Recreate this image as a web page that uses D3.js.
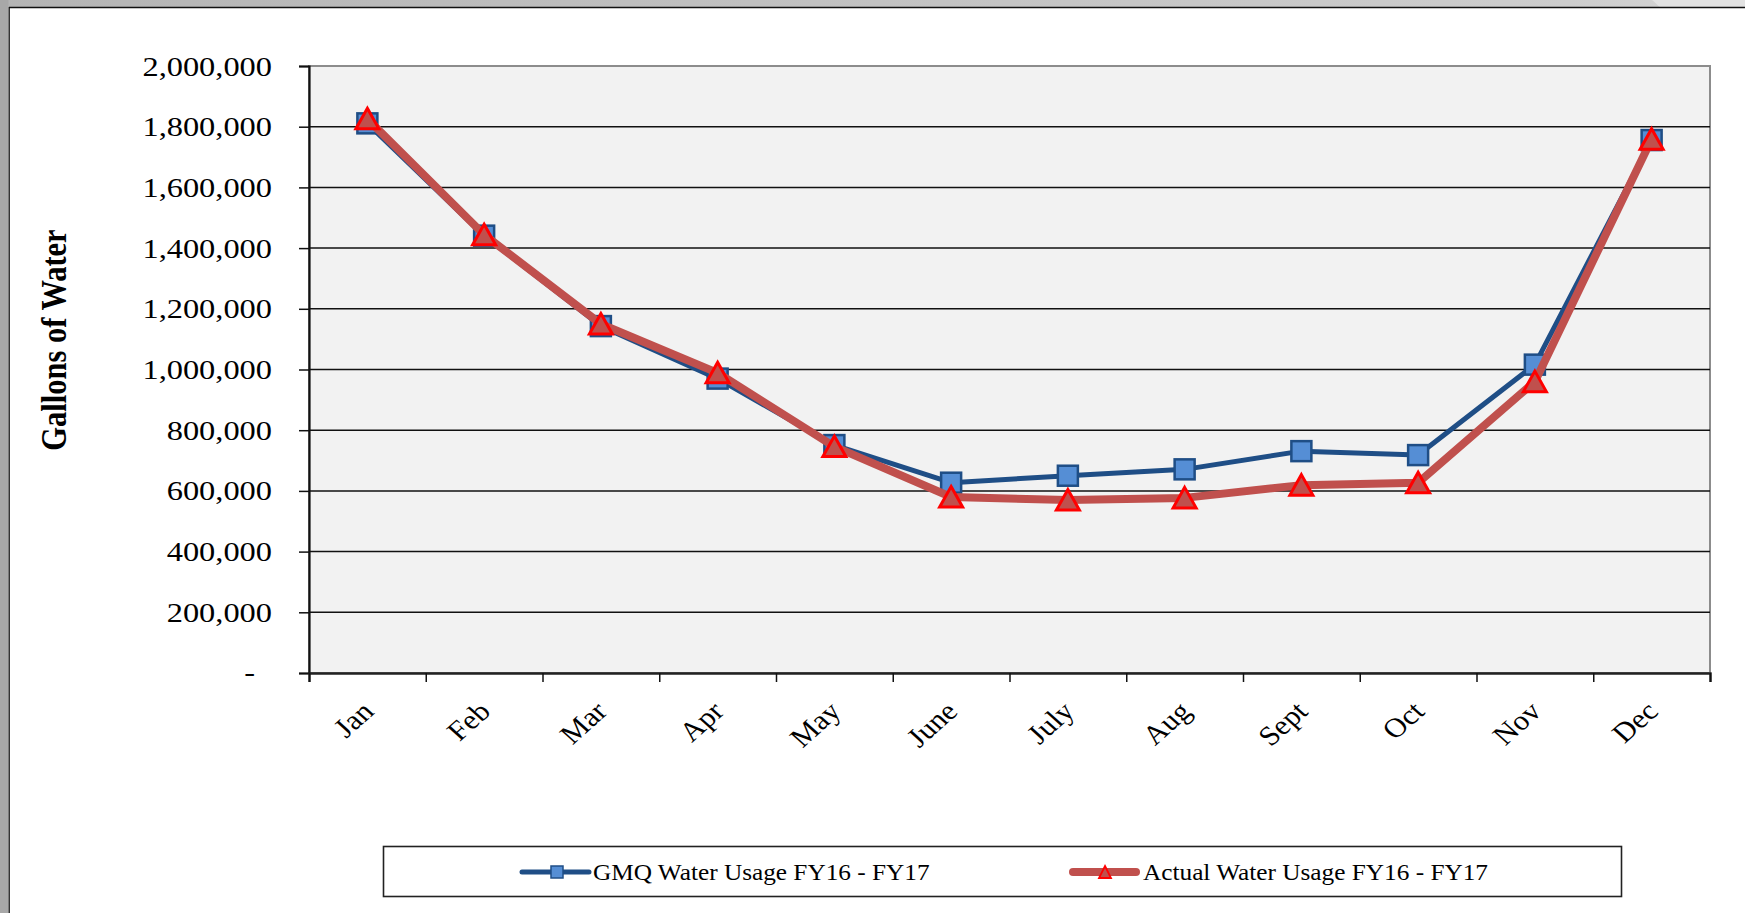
<!DOCTYPE html>
<html>
<head>
<meta charset="utf-8">
<script src="https://cdn.jsdelivr.net/npm/d3@7/dist/d3.min.js"></script>
<style>
  html, body { margin: 0; padding: 0; background: #fff; }
  svg { display: block; }
  text { font-family: "Liberation Serif", "Times New Roman", serif; fill: #000; }
</style>
</head>
<body>
<svg id="chart" width="1745" height="913"></svg>
<script>
// ---- data ----
const months = ["Jan", "Feb", "Mar", "Apr", "May", "June", "July", "Aug", "Sept", "Oct", "Nov", "Dec"];
const gmqValues = [1811000, 1441000, 1143000, 970000, 751000, 627000, 650000, 671000, 731000, 718000, 1016000, 1756000];
const actualValues = [1826000, 1444000, 1150000, 989000, 746000, 580000, 570000, 577000, 619000, 627000, 960000, 1759000];
const yTicks = [0, 200000, 400000, 600000, 800000, 1000000, 1200000, 1400000, 1600000, 1800000, 2000000];
const seriesNames = ["GMQ Water Usage FY16 - FY17", "Actual Water Usage FY16 - FY17"];
const yTitle = "Gallons of Water";

// ---- layout ----
const W = 1745, H = 913;
const plot = { left: 309, right: 1710, top: 66, bottom: 673 };
const SX = 1.2; // horizontal text stretch of the original

const svg = d3.select("#chart");

// page frame
const defs = svg.append("defs");
const g1 = defs.append("linearGradient").attr("id", "topg").attr("x1", 0).attr("x2", 1).attr("y1", 0).attr("y2", 0);
g1.append("stop").attr("offset", "0").attr("stop-color", "#b4b4b4");
g1.append("stop").attr("offset", "0.9").attr("stop-color", "#cdcdcd");
g1.append("stop").attr("offset", "1").attr("stop-color", "#d6d6d6");
svg.append("rect").attr("x", 0).attr("y", 0).attr("width", W).attr("height", H).attr("fill", "#ffffff");
svg.append("rect").attr("x", 0).attr("y", 0).attr("width", W).attr("height", 7).attr("fill", "url(#topg)");
svg.append("path").attr("d", "M1652,0 C1656,3 1658,6 1660,7 L1745,7 L1745,0 Z").attr("fill", "#e2e2e2");
svg.append("rect").attr("x", 0).attr("y", 0).attr("width", 8.5).attr("height", H).attr("fill", "#a8a8a8");
svg.append("line").attr("x1", 9).attr("x2", W).attr("y1", 7.5).attr("y2", 7.5).attr("stroke", "#111").attr("stroke-width", 1.3);
svg.append("line").attr("x1", 9.2).attr("x2", 9.2).attr("y1", 7).attr("y2", H).attr("stroke", "#111").attr("stroke-width", 1.3);

// scales
const x = d3.scaleBand().domain(months).range([plot.left, plot.right]).padding(0);
const xEdge = d3.scaleLinear().domain([0, months.length]).range([plot.left, plot.right]);
const y = d3.scaleLinear().domain([0, 2000000]).range([plot.bottom, plot.top]);
const cx = m => x(m) + x.bandwidth() / 2;

// plot background
svg.append("rect")
  .attr("x", plot.left).attr("y", plot.top)
  .attr("width", plot.right - plot.left).attr("height", plot.bottom - plot.top)
  .attr("fill", "#f2f2f2").attr("stroke", "#8c8c8c").attr("stroke-width", 2);

// gridlines
svg.append("g").selectAll("line").data(yTicks.filter(v => v > 0 && v < 2000000)).join("line")
  .attr("x1", plot.left).attr("x2", plot.right)
  .attr("y1", d => y(d)).attr("y2", d => y(d))
  .attr("stroke", "#111").attr("stroke-width", 1.5);

// y axis
const fmt = d3.format(",");
const yAxis = svg.append("g").attr("transform", `translate(${plot.left},0)`)
  .call(d3.axisLeft(y).tickValues(yTicks).tickSize(10).tickPadding(0).tickFormat(d => d === 0 ? "-" : fmt(d)));
yAxis.select(".domain").attr("stroke", "#111").attr("stroke-width", 2.2);
yAxis.selectAll(".tick line").attr("stroke", "#111").attr("stroke-width", 1.5);
yAxis.selectAll(".tick text")
  .attr("x", null).attr("dy", null)
  .attr("text-anchor", "end")
  .attr("font-size", 27)
  .attr("fill", "#000")
  .attr("transform", d => `translate(${d === 0 ? -54 : -37}, ${d === 0 ? 7 : 9}) scale(${SX},1)`);

// x axis ticks at category edges
const xTickAxis = svg.append("g").attr("transform", `translate(0,${plot.bottom})`)
  .call(d3.axisBottom(xEdge).tickValues(d3.range(months.length + 1)).tickSize(9).tickFormat(""));
xTickAxis.select(".domain").attr("stroke", "#222").attr("stroke-width", 2.4);
xTickAxis.selectAll(".tick line").attr("stroke", "#111").attr("stroke-width", 1.5);

// x labels (rotated)
const xAxis = svg.append("g").attr("transform", `translate(0,${plot.bottom})`)
  .call(d3.axisBottom(x).tickSize(0).tickFormat(d => d));
xAxis.select(".domain").remove();
xAxis.selectAll(".tick text")
  .attr("y", null).attr("dy", null)
  .attr("text-anchor", "end")
  .attr("font-size", 27.5)
  .attr("fill", "#000")
  .attr("transform", `translate(8,40) scale(1.12,1) rotate(-45)`);

// y title
svg.append("text")
  .attr("text-anchor", "middle")
  .attr("font-size", 30.5)
  .attr("font-weight", "bold")
  .attr("transform", `translate(66,340) rotate(-90) scale(1,${SX})`)
  .text(yTitle);

// markers
const sq = 20;
const triPath = "M0,-10.5 L11.5,10 L-11.5,10 Z";

const lineGen = vals => d3.line().x((d, i) => cx(months[i])).y(d => y(d))(vals);

// GMQ series
svg.append("path").attr("d", lineGen(gmqValues))
  .attr("fill", "none").attr("stroke", "#1F4E86").attr("stroke-width", 5).attr("stroke-linejoin", "round");
svg.append("g").selectAll("rect").data(gmqValues).join("rect")
  .attr("x", (d, i) => cx(months[i]) - sq / 2).attr("y", d => y(d) - sq / 2)
  .attr("width", sq).attr("height", sq)
  .attr("fill", "#558ED5").attr("stroke", "#1F4E86").attr("stroke-width", 2.5);

// Actual series
svg.append("path").attr("d", lineGen(actualValues))
  .attr("fill", "none").attr("stroke", "#C0504D").attr("stroke-width", 8).attr("stroke-linejoin", "round");
svg.append("g").selectAll("path").data(actualValues).join("path")
  .attr("d", triPath)
  .attr("transform", (d, i) => `translate(${cx(months[i])},${y(d)})`)
  .attr("fill", "#C0504D").attr("stroke", "#FF0000").attr("stroke-width", 3).attr("stroke-linejoin", "miter");

// legend
const lg = svg.append("g");
lg.append("rect").attr("x", 383.5).attr("y", 846.5).attr("width", 1238).attr("height", 50)
  .attr("fill", "#fff").attr("stroke", "#222").attr("stroke-width", 1.6);
const ly = 872;
// item 1
lg.append("line").attr("x1", 522).attr("x2", 589).attr("y1", ly).attr("y2", ly)
  .attr("stroke", "#1F4E86").attr("stroke-width", 5).attr("stroke-linecap", "round");
lg.append("rect").attr("x", 557 - 6).attr("y", ly - 6).attr("width", 12).attr("height", 12)
  .attr("fill", "#558ED5").attr("stroke", "#1F4E86").attr("stroke-width", 1.5);
lg.append("text").attr("font-size", 23).attr("transform", `translate(593,880) scale(1.1,1)`).text(seriesNames[0]);
// item 2
lg.append("line").attr("x1", 1073).attr("x2", 1136).attr("y1", ly).attr("y2", ly)
  .attr("stroke", "#C0504D").attr("stroke-width", 8).attr("stroke-linecap", "round");
lg.append("path").attr("d", "M0,-6 L6,6 L-6,6 Z").attr("transform", `translate(1105,${ly})`)
  .attr("fill", "#C0504D").attr("stroke", "#FF0000").attr("stroke-width", 1.8);
lg.append("text").attr("font-size", 23).attr("transform", `translate(1143,880) scale(1.1,1)`).text(seriesNames[1]);
</script>
</body>
</html>
